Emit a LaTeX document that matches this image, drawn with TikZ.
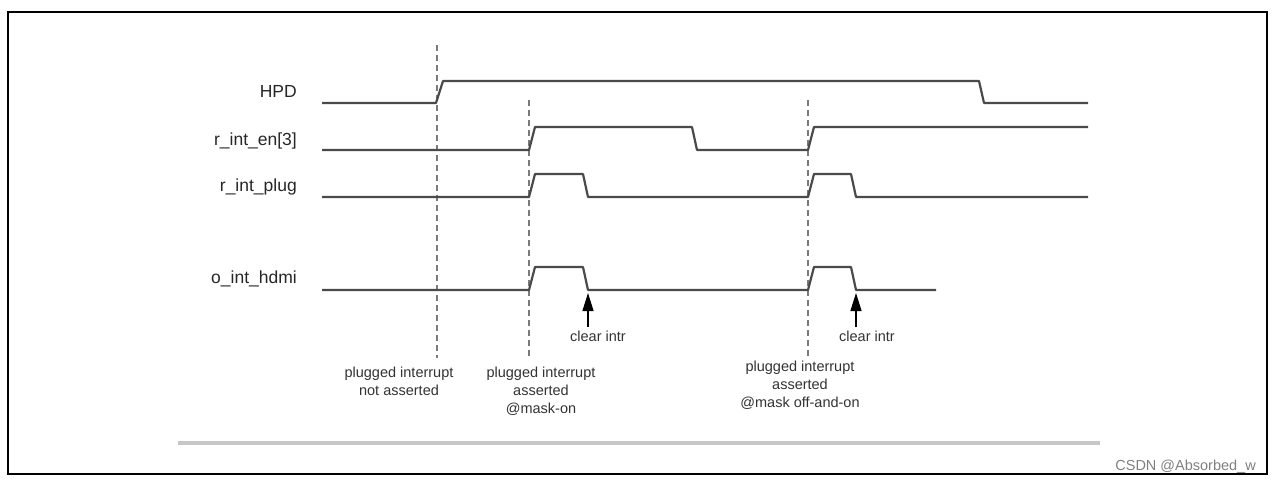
\documentclass[tikz,border=0pt]{standalone}
\usepackage{fontspec}
\setmainfont{Liberation Sans}
\usetikzlibrary{arrows.meta}
\definecolor{sig}{HTML}{4A4A4A}
\definecolor{dash}{HTML}{7A7A7A}
\tikzset{
  sigline/.style={draw=sig, line width=2.2pt, line join=round},
  mark line/.style={draw=dash, line width=1.4pt, dash pattern=on 6pt off 4pt},
  siglabel/.style={anchor=base east, inner sep=0pt, font=\fontsize{17.5}{20}\selectfont, text=black!85},
  note/.style={align=center, inner sep=0pt, font=\fontsize{14.5}{18}\selectfont, text=black!80},
  clrarrow/.style={draw=black, line width=1.3pt, -{Triangle[length=18pt,width=11pt]}},
}
\begin{document}
\begin{tikzpicture}[x=1pt,y=-1pt]
\useasboundingbox (0,0) rectangle (1275,483);
% frame
\draw[line width=2.2pt] (8,12) rectangle (1267,474);
% gray rule
\draw[draw=black!22, line width=3.5pt] (178,443) -- (1100,443);
% dashed markers
\draw[mark line] (437,45) -- (437,358);
\draw[mark line] (529,100) -- (529,358);
\draw[mark line] (808,100) -- (808,358);
% signal labels
\node[siglabel] (lhpd) at (297,97) {HPD};
\node[siglabel] (len) at (297,145) {r\_int\_en[3]};
\node[siglabel] (lplug) at (297,191) {r\_int\_plug};
\node[siglabel] (lhdmi) at (297,283) {o\_int\_hdmi};
% waveforms
\draw[sigline] (322,103) -- (436,103) -- (443,81) -- (979,81) -- (984,103) -- (1088,103);
\draw[sigline] (322,150) -- (529,150) -- (535,127) -- (692,127) -- (697,150) -- (808,150) -- (814,127) -- (1088,127);
\draw[sigline] (322,197) -- (529,197) -- (535,174) -- (583,174) -- (588,197) -- (808,197) -- (814,174) -- (851,174) -- (856,197) -- (1088,197);
\draw[sigline] (322,290) -- (529,290) -- (535,267) -- (583,267) -- (588,290) -- (808,290) -- (814,267) -- (851,267) -- (856,290) -- (936,290);
% clear intr arrows
\coordinate (a1s) at (588,327);
\coordinate (a1e) at (588,293);
\coordinate (a2s) at (856,327);
\coordinate (a2e) at (856,293);
\draw[clrarrow] (a1s) -- (a1e);
\draw[clrarrow] (a2s) -- (a2e);
\node[note] (c1) at (598,336) {clear intr};
\node[note] (c2) at (867,336) {clear intr};
% annotations
\node[note] (n1) at (399,381) {plugged interrupt\\not asserted};
\node[note] (n2) at (541,391) {plugged interrupt\\asserted\\@mask-on};
\node[note] (n3) at (800,385) {plugged interrupt\\asserted\\@mask off-and-on};
% watermark
\node[anchor=base east, inner sep=0pt, font=\fontsize{14.5}{16}\selectfont, text=black!50] (wm) at (1256,470) {CSDN @Absorbed\_w};
\end{tikzpicture}
\end{document}
